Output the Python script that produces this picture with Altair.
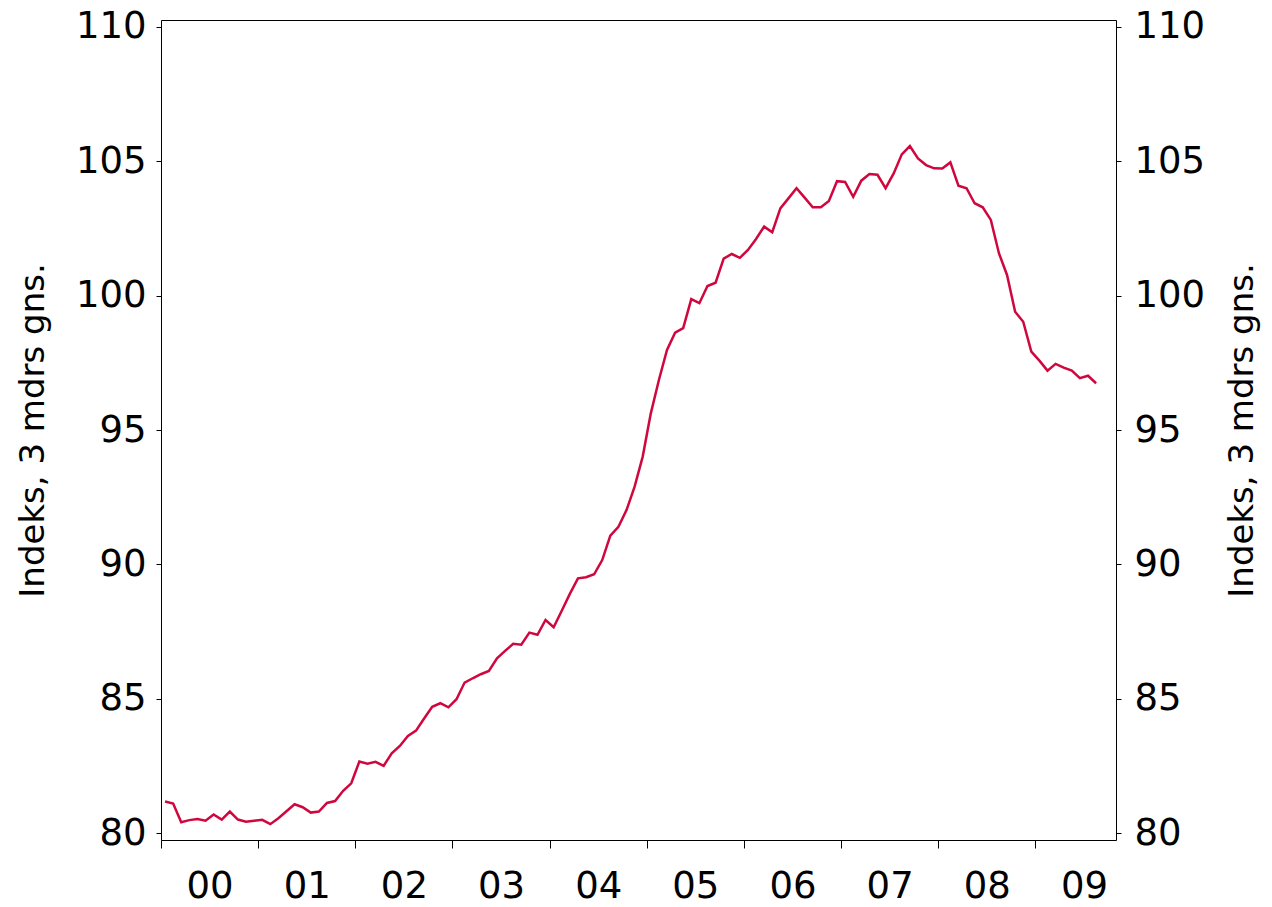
import altair as alt
import pandas as pd

start_year = 2000
values = [
    81.17, 81.10, 80.40, 80.48, 80.52, 80.46, 80.69, 80.50, 80.80, 80.50, 80.42, 80.46,
    80.49, 80.33, 80.55, 80.81, 81.07, 80.96, 80.76, 80.80, 81.12, 81.19, 81.57, 81.85,
    82.66, 82.58, 82.65, 82.50, 82.97, 83.24, 83.61, 83.81, 84.26, 84.70, 84.83, 84.68,
    84.98, 85.60, 85.76, 85.91, 86.03, 86.50, 86.78, 87.04, 87.01, 87.46, 87.38, 87.93,
    87.66, 88.27, 88.90, 89.48, 89.52, 89.63, 90.16, 91.07, 91.40, 92.02, 92.89, 94.01,
    95.62, 96.86, 97.98, 98.62, 98.79, 99.87, 99.72, 100.36, 100.48, 101.38, 101.55, 101.41,
    101.70, 102.11, 102.57, 102.36, 103.25, 103.62, 104.00, 103.65, 103.29, 103.29, 103.52, 104.26,
    104.23, 103.68, 104.28, 104.53, 104.50, 104.00, 104.55, 105.26, 105.57, 105.11, 104.86, 104.74,
    104.73, 104.96, 104.09, 104.00, 103.44, 103.29, 102.82, 101.58, 100.77, 99.40, 99.03, 97.92,
    97.58, 97.21, 97.46, 97.32, 97.21, 96.93, 97.02, 96.74,
]
year_ticks = list(range(2000, 2010))
y_ticks = [80, 85, 90, 95, 100, 105, 110]
axis_title = "Indeks, 3 mdrs gns."

df = pd.DataFrame({
    "t": [start_year + (i + 0.5) / 12 for i in range(len(values))],
    "v": values,
})

FONT = "DejaVu Sans"
LABEL_SIZE = 37
TITLE_SIZE = 34
x_scale = alt.Scale(domain=[2000, 2009.83], nice=False, zero=False)
y_scale = alt.Scale(domain=[79.74, 110.26], nice=False, zero=False)

line = alt.Chart(df).mark_line(color="#D0073F", strokeWidth=2.5).encode(
    x=alt.X(
        "t:Q", scale=x_scale, title=None,
        axis=alt.Axis(
            orient="bottom", values=year_ticks,
            labelExpr="(datum.value % 100 < 10 ? '0' : '') + (datum.value % 100)",
            labelOffset=48.6, labelAlign="center", tickSize=8, labelPadding=20,
            labelFontSize=LABEL_SIZE, labelFont=FONT, labelColor="black",
            domainColor="black", tickColor="black", grid=False, labelFlush=False,
        ),
    ),
    y=alt.Y(
        "v:Q", scale=y_scale, title=axis_title,
        axis=alt.Axis(
            orient="left", values=y_ticks, tickSize=5, labelPadding=10,
            labelFontSize=LABEL_SIZE, labelFont=FONT, labelColor="black",
            titleFontSize=TITLE_SIZE, titleFont=FONT, titleFontWeight="normal", titleColor="black",
            titlePadding=25, domainColor="black", tickColor="black", grid=False,
        ),
    ),
)

right = alt.Chart(df).mark_line(opacity=0).encode(
    x=alt.X(
        "t:Q", scale=x_scale, title=None,
        axis=alt.Axis(orient="top", labels=False, ticks=False, domainColor="black", grid=False),
    ),
    y=alt.Y(
        "v:Q", scale=y_scale, title=axis_title,
        axis=alt.Axis(
            orient="right", values=y_ticks, tickSize=5, labelPadding=13,
            labelFontSize=LABEL_SIZE, labelFont=FONT, labelColor="black",
            titleFontSize=TITLE_SIZE, titleFont=FONT, titleFontWeight="normal", titleColor="black",
            titleAngle=270, titleBaseline="top",
            titlePadding=21, domainColor="black", tickColor="black", grid=False,
        ),
    ),
)

chart = alt.layer(line, right).resolve_axis(x="independent", y="independent").properties(
    width=955, height=820,
    autosize=alt.AutoSizeParams(type="none"),
    padding={"left": 153, "top": 12, "right": 148, "bottom": 75},
).configure_view(stroke=None).configure(background="white")

chart.save("out.html", embed_options={"renderer": "svg", "actions": False})
